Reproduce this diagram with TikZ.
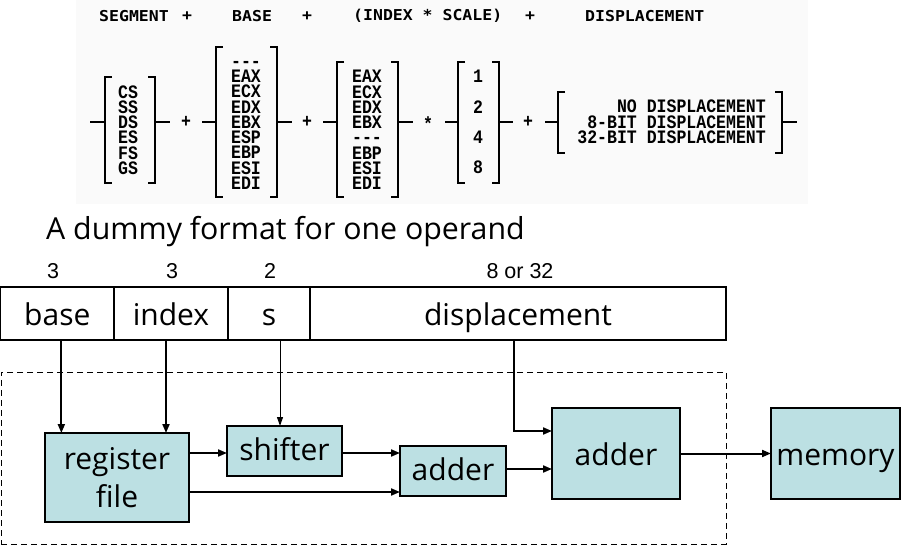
\documentclass[tikz,border=0pt]{standalone}
\usepackage{fontspec}
\setmainfont{Open Sans}
\newfontfamily\numfont{Liberation Sans}
\newfontfamily\hdfont[FakeStretch=1.1]{DejaVu Sans Mono}
\newfontfamily\itfont[FakeStretch=0.87]{Liberation Mono}
\usetikzlibrary{arrows.meta}
\definecolor{boxfill}{RGB}{188,224,227}
\definecolor{shot}{RGB}{250,250,250}
\begin{document}
\begin{tikzpicture}[x=1pt,y=-1pt,
  brk/.style={line width=2.2pt},
  hd/.style={font=\hdfont\bfseries\fontsize{15}{18}\selectfont, inner sep=0},
  itm/.style={font=\itfont\bfseries\fontsize{19}{15.25}\selectfont, inner sep=0, align=center},
  op/.style={font=\itfont\bfseries\fontsize{19}{19}\selectfont, inner sep=0},
  field/.style={draw, line width=1.2pt, minimum height=53pt, inner sep=0, outer sep=0,
     text height=27pt, text depth=2pt, font=\fontsize{30}{36}\selectfont},
  num/.style={font=\numfont\fontsize{21.5}{24}\selectfont, inner sep=0},
  unit/.style={draw, line width=2.5pt, fill=boxfill, inner sep=0, outer sep=0,
     font=\fontsize{30}{38}\selectfont, align=center},
  thk/.style={line width=2pt, -{Triangle[length=9pt,width=7pt]}},
  thn/.style={line width=1pt, -{Triangle[length=9pt,width=6pt]}},
]
\useasboundingbox (0,0) rectangle (913,545);
\fill[shot] (76,0) rectangle (808,204);

% heading
\node[hd, anchor=west] (hseg) at (99,16) {SEGMENT};
\node[hd] (hp1) at (187,16) {+};
\node[hd, anchor=west] (hbase) at (232,16) {BASE};
\node[hd] (hp2) at (307,16) {+};
\node[hd, anchor=west] (hidx) at (353,16) {(INDEX * SCALE)};
\node[hd] (hp3) at (530,16) {+};
\node[hd, anchor=west] (hdisp) at (585,16) {DISPLACEMENT};

% segment group
\draw[brk] (90,122) -- (105,122);
\draw[brk] (112,77) -- (105,77) -- (105,183) -- (112,183);
\draw[brk] (148,77) -- (155,77) -- (155,183) -- (148,183);
\draw[brk] (155,122) -- (170,122);
\node[itm] (gseg) at (128,130) {CS\\SS\\DS\\ES\\FS\\GS};
\node[op] (o1) at (186,122) {+};
% base group
\draw[brk] (202,122) -- (216,122);
\draw[brk] (223,47) -- (216,47) -- (216,197) -- (223,197);
\draw[brk] (270,47) -- (277,47) -- (277,197) -- (270,197);
\draw[brk] (277,122) -- (292,122);
\node[itm] (gbase) at (246,122) {\vphantom{E}{-}{-}{-}\\EAX\\ECX\\EDX\\EBX\\ESP\\EBP\\ESI\\EDI};
\node[op] (o2) at (307,122) {+};
% index group
\draw[brk] (323,122) -- (337,122);
\draw[brk] (344,62) -- (337,62) -- (337,197) -- (344,197);
\draw[brk] (391,62) -- (398,62) -- (398,197) -- (391,197);
\draw[brk] (398,122) -- (413,122);
\node[itm] (gidx) at (367,130) {EAX\\ECX\\EDX\\EBX\\{-}{-}{-}\\EBP\\ESI\\EDI};
\node[op] (o3) at (428,124) {*};
% scale group
\draw[brk] (445,122) -- (458,122);
\draw[brk] (465,62) -- (458,62) -- (458,183) -- (465,183);
\draw[brk] (492,62) -- (499,62) -- (499,183) -- (492,183);
\draw[brk] (499,122) -- (513,122);
\node[itm, font=\itfont\bfseries\fontsize{19}{30.2}\selectfont] (gsc) at (478,122) {1\\2\\4\\8};
\node[op] (o4) at (528,122) {+};
% displacement group
\draw[brk] (545,122) -- (558,122);
\draw[brk] (565,92) -- (558,92) -- (558,153) -- (565,153);
\draw[brk] (775,92) -- (782,92) -- (782,153) -- (775,153);
\draw[brk] (782,122) -- (797,122);
\node[itm, align=right, anchor=east] (gdisp) at (766,122) {NO DISPLACEMENT\\8-BIT DISPLACEMENT\\32-BIT DISPLACEMENT};

% title
\node[anchor=base west, inner sep=0, font=\fontsize{30.3}{36}\selectfont] (title) at (46,240) {A dummy format for one operand};

% bit counts
\node[num] (n1) at (53,271) {3};
\node[num] (n2) at (172,271) {3};
\node[num] (n3) at (270,271) {2};
\node[num] (n4) at (520,271) {8 or 32};

% fields
\node[field, minimum width=113.3pt] (fb) at (57.35,313.5) {base};
\node[field, minimum width=114pt] (fi) at (171,313.5) {index};
\node[field, minimum width=82pt] (fs) at (269,313.5) {s};
\node[field, minimum width=416pt] (fd) at (518,313.5) {displacement};

% datapath box
\node[draw, dashed, line width=0.9pt, dash pattern=on 6pt off 4pt, minimum width=725pt, minimum height=172pt, inner sep=0] (dp) at (363.5,458) {};

% units
\node[unit, minimum width=144pt, minimum height=89pt] (rf) at (117,477.5) {register\\file};
\node[unit, minimum width=115pt, minimum height=50pt, text height=22pt, text depth=3pt] (sh) at (284.5,451) {shifter};
\node[unit, minimum width=106pt, minimum height=50pt, text height=22pt, text depth=3pt] (ad1) at (453,471) {adder};
\node[unit, minimum width=128pt, minimum height=91pt, text height=25pt, text depth=2pt] (ad2) at (616,453.5) {adder};
\node[unit, minimum width=129pt, minimum height=91pt, text height=25pt, text depth=2pt] (mem) at (835.5,453.5) {memory};

% connectors
\draw[thk] ([xshift=4pt]fb.south) -- ([xshift=4pt]fb.south |- rf.north);
\draw[thk] ([xshift=-5pt]fi.south) -- ([xshift=-5pt]fi.south |- rf.north);
\draw[thn] ([xshift=11pt]fs.south) -- ([xshift=11pt]fs.south |- sh.north);
\draw[thk] ([xshift=-4pt]fd.south) |- ([yshift=22.5pt]ad2.west);
\draw[thk] ([yshift=24.5pt]rf.east) -- ([yshift=24.5pt]rf.east -| sh.west);
\draw[thk] ([yshift=-14.5pt]rf.east) -- ([yshift=-14.5pt]rf.east -| ad1.west);
\draw[thk] ([yshift=-2pt]sh.east) -- ([yshift=-2pt]sh.east -| ad1.west);
\draw[thk] ([yshift=2pt]ad1.east) -- ([yshift=2pt]ad1.east -| ad2.west);
\draw[thk] (ad2.east) -- (mem.west);
\end{tikzpicture}
\end{document}
